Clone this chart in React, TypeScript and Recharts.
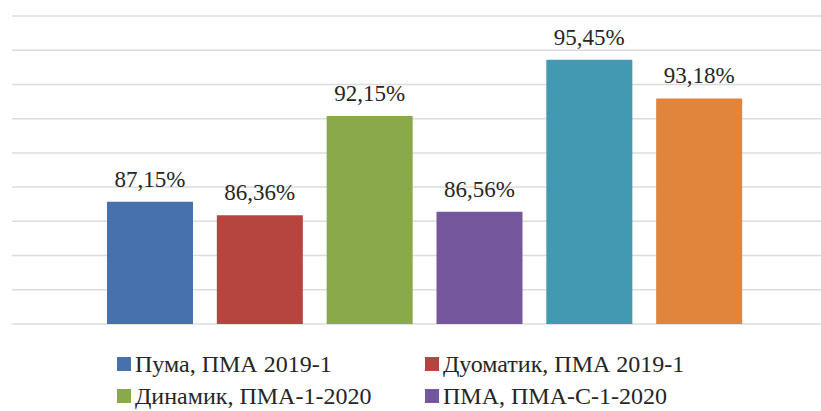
import { BarChart, Bar, Cell, XAxis, YAxis, CartesianGrid, Legend, LabelList } from "recharts";

const categories = ["Пума, ПМА 2019-1", "Дуоматик, ПМА 2019-1", "Динамик, ПМА-1-2020", "ПМА, ПМА-С-1-2020", "bar5", "bar6"];
const values = [87.15, 86.36, 92.15, 86.56, 95.45, 93.18];
const colors = ["#4671ad", "#b6443f", "#89a94b", "#74579d", "#4398b2", "#e1843c"];
// only the first two legend rows are visible in the picture
const legendLabels = ["Пума, ПМА 2019-1", "Дуоматик, ПМА 2019-1", "Динамик, ПМА-1-2020", "ПМА, ПМА-С-1-2020"];
const yTicks = [80, 82, 84, 86, 88, 90, 92, 94, 96, 98];

const data = categories.map((c, i) => ({ name: c, value: values[i] }));

const FONT = "Liberation Serif, Times New Roman, Tinos, DejaVu Serif, serif";

const fmt = (v: number) => v.toFixed(2).replace(".", ",") + "%";

function ValueLabel(props: any) {
  const { x, y, width, value } = props;
  return (
    <text x={x + width / 2} y={y - 15} textAnchor="middle" fill="#262626" style={{ fontFamily: FONT, fontSize: 23 }}>
      {fmt(value)}
    </text>
  );
}

function LegendBox() {
  return (
    <div style={{ display: "grid", gridTemplateColumns: "308px 308px", rowGap: 6, fontFamily: FONT, fontSize: 24, color: "#262626", lineHeight: "26px" }}>
      {legendLabels.map((l, i) => (
        <div key={l} style={{ display: "flex", alignItems: "center", whiteSpace: "nowrap" }}>
          <span style={{ display: "inline-block", width: 14, height: 14, background: colors[i], marginRight: 4 }} />
          {l}
        </div>
      ))}
    </div>
  );
}

export default function App() {
  return (
    <div style={{ position: "absolute", left: 0, top: 0, background: "#fff" }}>
      <BarChart width={821} height={411} data={data} margin={{ top: 16, right: 0, bottom: 87, left: 12 }}>
        <CartesianGrid vertical={false} stroke="#dcdcdc" strokeWidth={1.5} />
        <XAxis dataKey="name" hide padding={{ left: 83, right: 67 }} />
        <YAxis hide domain={[80, 98]} ticks={yTicks} />
        <Legend layout="horizontal" verticalAlign="middle" align="center" content={() => <LegendBox />}
          wrapperStyle={{ left: 117, top: 351, width: 640 }} />
        <Bar dataKey="value" barSize={86} isAnimationActive={false}>
          {data.map((d, i) => (
            <Cell key={d.name} fill={colors[i]} />
          ))}
          <LabelList dataKey="value" content={ValueLabel} />
        </Bar>
      </BarChart>
    </div>
  );
}
